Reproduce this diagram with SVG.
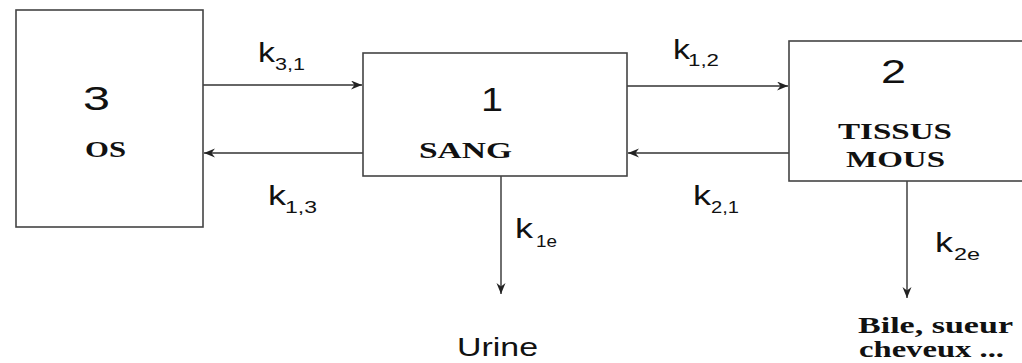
<svg xmlns="http://www.w3.org/2000/svg" width="1022" height="363" viewBox="0 0 1022 363">
<style>
.box{fill:#fff;stroke:#444;stroke-width:1.6}
.ln{fill:none;stroke:#333;stroke-width:1.4}
.num{font-family:"Liberation Sans",Arial,sans-serif;font-size:34px;fill:#111}
.lbl{font-family:"Liberation Serif","Times New Roman",serif;font-weight:bold;font-size:23px;fill:#111}
.k{font-family:"Liberation Sans",Arial,sans-serif;font-size:27px;fill:#111}
.sub{font-family:"Liberation Sans",Arial,sans-serif;font-size:17px;fill:#111}
.out{font-family:"Liberation Sans",Arial,sans-serif;font-size:26px;fill:#111}
</style>
<defs>
<marker id="ah" markerWidth="12" markerHeight="10" refX="11" refY="4.5" orient="auto" markerUnits="userSpaceOnUse">
<path d="M0,0 L11,4.5 L0,9 L3.5,4.5 z" fill="#222"/>
</marker>
</defs>
<rect width="1022" height="363" fill="#fff"/>
<g id="connectors">
<line class="ln" x1="203" y1="85" x2="362" y2="85" marker-end="url(#ah)"/>
<line class="ln" x1="363" y1="153" x2="204" y2="153" marker-end="url(#ah)"/>
<line class="ln" x1="627" y1="86" x2="788" y2="86" marker-end="url(#ah)"/>
<line class="ln" x1="789" y1="153" x2="628" y2="153" marker-end="url(#ah)"/>
<line class="ln" x1="501" y1="176" x2="501" y2="294" marker-end="url(#ah)"/>
<line class="ln" x1="907" y1="181" x2="907" y2="298" marker-end="url(#ah)"/>
<text class="k" x="258" y="62" textLength="17" lengthAdjust="spacingAndGlyphs">k</text>
<text class="sub" x="275" y="70" textLength="30" lengthAdjust="spacingAndGlyphs">3,1</text>
<text class="k" x="268" y="205" textLength="18" lengthAdjust="spacingAndGlyphs">k</text>
<text class="sub" x="285" y="213" textLength="32" lengthAdjust="spacingAndGlyphs">1,3</text>
<text class="k" x="673" y="59" textLength="17" lengthAdjust="spacingAndGlyphs">k</text>
<text class="sub" x="688" y="66" textLength="31" lengthAdjust="spacingAndGlyphs">1,2</text>
<text class="k" x="693" y="205" textLength="18" lengthAdjust="spacingAndGlyphs">k</text>
<text class="sub" x="711" y="213" textLength="28" lengthAdjust="spacingAndGlyphs">2,1</text>
<text class="k" x="515" y="238" textLength="18" lengthAdjust="spacingAndGlyphs">k</text>
<text class="sub" x="536" y="247" textLength="21" lengthAdjust="spacingAndGlyphs">1e</text>
<text class="k" x="935" y="252" textLength="18" lengthAdjust="spacingAndGlyphs">k</text>
<text class="sub" x="954" y="260" textLength="26" lengthAdjust="spacingAndGlyphs">2e</text>
</g>
<g id="node-os">
<rect class="box" x="16" y="10" width="187" height="217"/>
<text class="num" x="83" y="110" textLength="27" lengthAdjust="spacingAndGlyphs">3</text>
<text class="lbl" x="85" y="157" textLength="41" lengthAdjust="spacingAndGlyphs">OS</text>
</g>
<g id="node-sang">
<rect class="box" x="363" y="53" width="264" height="123"/>
<text class="num" x="481" y="111" textLength="22" lengthAdjust="spacingAndGlyphs">1</text>
<text class="lbl" x="419" y="158" textLength="93" lengthAdjust="spacingAndGlyphs" style="font-size:24px">SANG</text>
</g>
<g id="node-tissus">
<rect class="box" x="789" y="41" width="250" height="140"/>
<text class="num" x="881" y="83" textLength="25" lengthAdjust="spacingAndGlyphs">2</text>
<text class="lbl" x="838" y="139" textLength="114" lengthAdjust="spacingAndGlyphs">TISSUS</text>
<text class="lbl" x="846" y="167" textLength="99" lengthAdjust="spacingAndGlyphs">MOUS</text>
</g>
<g id="node-urine">
<text class="out" x="457" y="356" textLength="81" lengthAdjust="spacingAndGlyphs">Urine</text>
</g>
<g id="node-bile">
<text class="lbl" x="858" y="333" textLength="155" lengthAdjust="spacingAndGlyphs">Bile, sueur</text>
<text class="lbl" x="859" y="357" textLength="145" lengthAdjust="spacingAndGlyphs">cheveux ...</text>
</g>
</svg>
